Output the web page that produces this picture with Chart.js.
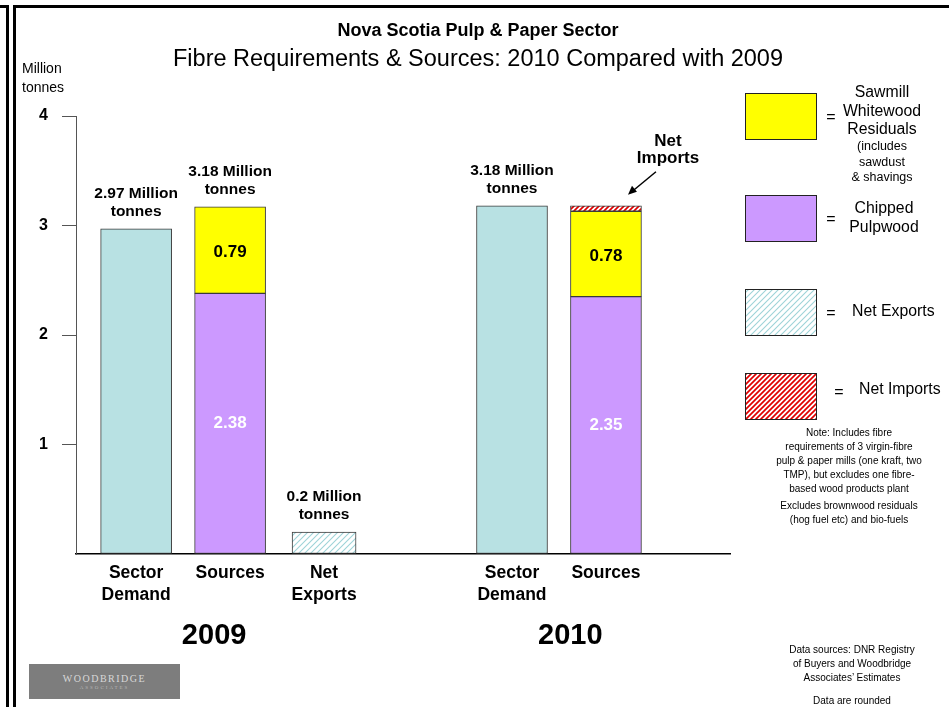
<!DOCTYPE html>
<html>
<head>
<meta charset="utf-8">
<title>Nova Scotia Pulp & Paper Sector</title>
<script src="https://cdn.jsdelivr.net/npm/chart.js@4.4.1/dist/chart.umd.min.js"></script>
<style>
  body { margin: 0; background: #fff; font-family: "Liberation Sans", Arial, sans-serif; }
  #wrap { position: relative; width: 949px; height: 707px; overflow: hidden; }
  #c { position: absolute; left: 0; top: 0; }
  .frame { position: absolute; box-sizing: border-box; border: 3px solid #000; pointer-events: none; }
  .note { position: absolute; font-size: 10px; line-height: 14px; text-align: center; color: #000; }
  .logo { position: absolute; left: 29px; top: 664px; width: 151px; height: 35px; background: #7d7d7d;
          color: #d8d8d8; text-align: center; font-family: "Liberation Serif", serif; }
  .logo .big { font-size: 10px; letter-spacing: 1.5px; margin-top: 9px; }
  .logo .small { font-size: 5px; letter-spacing: 2px; margin-top: 1px; color: #b8b8b8; }
</style>
</head>
<body>
<div id="wrap">
  <canvas id="c" width="949" height="707"></canvas>
  <div class="frame" style="left:-20px; top:5px; width:29px; height:800px;"></div>
  <div class="frame" style="left:13px; top:5px; width:1000px; height:800px;"></div>

  <div class="note" style="left:774px; top:426px; width:150px;">
    Note: Includes fibre<br>requirements of 3 virgin-fibre<br>pulp &amp; paper mills (one kraft, two<br>TMP), but excludes one fibre-<br>based wood products plant
  </div>
  <div class="note" style="left:774px; top:499px; width:150px;">
    Excludes brownwood residuals<br>(hog fuel etc) and bio-fuels
  </div>
  <div class="note" style="left:777px; top:643px; width:150px;">
    Data sources: DNR Registry<br>of Buyers and Woodbridge<br>Associates’ Estimates
  </div>
  <div class="note" style="left:777px; top:694px; width:150px;">Data are rounded</div>

  <div class="logo"><div class="big">WOODBRIDGE</div><div class="small">ASSOCIATES</div></div>
</div>

<script>
// column slots along the x axis (empty slot separates the two years)
const slots = ['Sector\nDemand', 'Sources', 'Net\nExports', '', 'Sector\nDemand', 'Sources'];
const years = ['2009', '2010'];

// million tonnes per slot
const sectorDemand = [2.97, null, null, null, 3.18, null];
const pulpwood     = [null, 2.38, null, null, null, 2.35];
const sawmill      = [null, 0.79, null, null, null, 0.78];
const netImports   = [null, null, null, null, null, 0.05];
const netExports   = [null, null, 0.2, null, null, null];

// "x Million tonnes" captions above the columns
const totals = ['2.97', '3.18', '0.2', null, '3.18', null];

const FONT = '"Liberation Sans", Arial, sans-serif';
const canvas = document.getElementById('c');
const ctx = canvas.getContext('2d');

function hatch(fg, bg, size, lw) {
  const c = document.createElement('canvas');
  c.width = c.height = size;
  const g = c.getContext('2d');
  g.fillStyle = bg;
  g.fillRect(0, 0, size, size);
  g.strokeStyle = fg;
  g.lineWidth = lw;
  g.beginPath();
  g.moveTo(0, size); g.lineTo(size, 0);
  g.moveTo(-1, 1); g.lineTo(1, -1);
  g.moveTo(size - 1, size + 1); g.lineTo(size + 1, size - 1);
  g.stroke();
  return ctx.createPattern(c, 'repeat');
}

const exportFill = hatch('#9ed3d8', '#ffffff', 6, 1.1);
const importFill = hatch('#e00000', '#ffffff', 5, 1.7);

const points = arr => arr.map((y, i) => (y == null ? null : { x: i, y })).filter(Boolean);

const barStyle = { borderColor: '#3a3a3a', borderWidth: 1, borderSkipped: false, barThickness: 71 };

function drawLines(g, lines, x, y, step) {
  lines.forEach((t, k) => g.fillText(t, x, y + k * step));
}

const decor = {
  id: 'decor',
  afterDraw(chart) {
    const g = chart.ctx;
    const xs = chart.scales.x, ys = chart.scales.y;
    g.save();
    g.fillStyle = '#000';
    g.textAlign = 'center';
    g.textBaseline = 'middle';

    // titles
    g.font = 'bold 18px ' + FONT;
    g.fillText('Nova Scotia Pulp & Paper Sector', 478, 31);
    g.font = '23.5px ' + FONT;
    g.fillText('Fibre Requirements & Sources: 2010 Compared with 2009', 478, 60);

    // y axis unit
    g.textAlign = 'left';
    g.font = '14px ' + FONT;
    drawLines(g, ['Million', 'tonnes'], 22, 69, 19);
    g.textAlign = 'center';

    // captions above columns
    g.font = 'bold 15.5px ' + FONT;
    totals.forEach((t, i) => {
      if (t == null) return;
      const top = [sectorDemand, pulpwood, sawmill, netImports, netExports]
        .reduce((s, a) => s + (a[i] || 0), 0);
      const px = xs.getPixelForValue(i), py = ys.getPixelForValue(top);
      g.fillText(t + ' Million', px, py - 35);
      g.fillText('tonnes', px, py - 17);
    });

    // values inside the Sources stacks
    g.font = 'bold 17px ' + FONT;
    pulpwood.forEach((v, i) => {
      if (v == null) return;
      const px = xs.getPixelForValue(i);
      g.fillStyle = '#fff';
      g.fillText(v.toFixed(2), px, ys.getPixelForValue(v / 2));
      g.fillStyle = '#000';
      g.fillText(sawmill[i].toFixed(2), px, ys.getPixelForValue(v + sawmill[i] / 2) + 2);
    });

    // year labels
    g.font = 'bold 29px ' + FONT;
    g.fillText(years[0], xs.getPixelForValue(0.83), 636);
    g.fillText(years[1], xs.getPixelForValue(4.62), 636);

    // Net Imports callout with arrow
    const ix = xs.getPixelForValue(5);
    const iy = ys.getPixelForValue(pulpwood[5] + sawmill[5] + netImports[5]);
    g.font = 'bold 17px ' + FONT;
    drawLines(g, ['Net', 'Imports'], ix + 62, iy - 64, 16.5);
    const ax = ix + 22, ay = iy - 11;
    g.strokeStyle = '#000';
    g.lineWidth = 1.5;
    g.beginPath();
    g.moveTo(ix + 50, iy - 34);
    g.lineTo(ax + 5, ay - 4);
    g.stroke();
    g.beginPath();
    g.moveTo(ax, ay);
    g.lineTo(ax + 4, ay - 9);
    g.lineTo(ax + 9, ay - 3);
    g.closePath();
    g.fill();

    // legend
    const boxes = [
      { y: 93, fill: '#ffff00' },
      { y: 195, fill: '#cc99ff' },
      { y: 289, fill: exportFill },
      { y: 373, fill: importFill }
    ];
    boxes.forEach(b => {
      g.fillStyle = b.fill;
      g.fillRect(745, b.y, 72, 47);
      g.strokeStyle = '#222';
      g.lineWidth = 1;
      g.strokeRect(745.5, b.y + 0.5, 71, 46);
    });
    g.fillStyle = '#000';
    g.font = '16px ' + FONT;
    g.fillText('=', 831, 118);
    g.fillText('=', 831, 220);
    g.fillText('=', 831, 314);
    g.fillText('=', 839, 393);
    g.font = '15.8px ' + FONT;
    drawLines(g, ['Sawmill', 'Whitewood', 'Residuals'], 882, 93, 18.5);
    drawLines(g, ['Chipped', 'Pulpwood'], 884, 209, 18.5);
    g.textAlign = 'left';
    g.fillText('Net Exports', 852, 312);
    g.fillText('Net Imports', 859, 390);
    g.textAlign = 'center';
    g.font = '12.5px ' + FONT;
    drawLines(g, ['(includes', 'sawdust', '& shavings'], 882, 147, 15.5);

    g.restore();
  }
};

new Chart(ctx, {
  type: 'bar',
  data: {
    datasets: [
      { label: 'Sector Demand', data: points(sectorDemand), backgroundColor: '#b8e1e3', ...barStyle },
      { label: 'Chipped Pulpwood', data: points(pulpwood), backgroundColor: '#cc99ff', ...barStyle },
      { label: 'Sawmill Whitewood Residuals', data: points(sawmill), backgroundColor: '#ffff00', ...barStyle },
      { label: 'Net Imports', data: points(netImports), backgroundColor: importFill, ...barStyle },
      { label: 'Net Exports', data: points(netExports), backgroundColor: exportFill, ...barStyle, barThickness: 64 }
    ]
  },
  options: {
    responsive: false,
    animation: false,
    layout: { padding: { top: 116, right: 219, bottom: 93, left: 0 } },
    plugins: {
      legend: { display: false },
      tooltip: { enabled: false }
    },
    scales: {
      x: {
        type: 'linear',
        min: -0.64,
        max: 6.32,
        offset: false,
        stacked: true,
        grid: { display: false, offset: false },
        border: { color: '#000', width: 1.5 },
        afterBuildTicks: s => {
          s.ticks = slots.map((l, i) => ({ value: i })).filter(t => slots[t.value]);
        },
        afterFit: s => { s.height = 60; },
        ticks: {
          autoSkip: false,
          maxRotation: 0,
          padding: 0,
          color: '#000',
          font: { family: FONT, size: 17.5, weight: 'bold', lineHeight: 1.25 },
          callback: v => (slots[v] || '').split('\n')
        }
      },
      y: {
        min: 0,
        max: 4,
        stacked: true,
        afterFit: s => { s.width = 76; },
        grid: {
          drawOnChartArea: false,
          tickLength: 14,
          color: c => (c.tick && c.tick.value === 0 ? 'rgba(0,0,0,0)' : '#555')
        },
        border: { color: '#555', width: 1 },
        ticks: {
          stepSize: 1,
          padding: 14,
          color: '#000',
          font: { family: FONT, size: 16, weight: 'bold' },
          callback: v => (v === 0 ? '' : v)
        }
      }
    }
  },
  plugins: [decor]
});
</script>
</body>
</html>
